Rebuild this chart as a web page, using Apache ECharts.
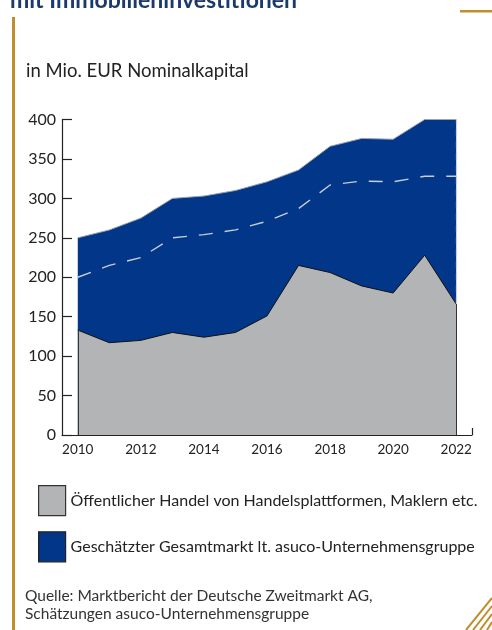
<!DOCTYPE html>
<html>
<head>
<meta charset="utf-8">
<script src="https://cdn.jsdelivr.net/npm/echarts@6/dist/echarts.min.js"></script>
<style>
  html, body { margin: 0; padding: 0; background: #fff; }
  #chart { width: 492px; height: 630px; }
</style>
</head>
<body>
<div id="chart"></div>
<script>
  const years = [2010, 2011, 2012, 2013, 2014, 2015, 2016, 2017, 2018, 2019, 2020, 2021, 2022];
  // Geschätzter Gesamtmarkt (obere Kante der blauen Fläche)
  const totalMarket = [250, 260, 275, 300, 303, 310, 321, 336, 366, 376, 375, 400, 400];
  // gestrichelte Linie innerhalb der blauen Fläche
  const dashedLine = [200, 215, 225, 250, 254, 260, 271, 287, 317, 322, 321, 328, 328];
  // Öffentlicher Handel
  const publicTrade = [133, 117, 120, 130, 124, 130, 151, 215, 206, 189, 180, 228, 166];
  const yTicks = [0, 50, 100, 150, 200, 250, 300, 350, 400];
  const xLabels = [2010, 2012, 2014, 2016, 2018, 2020, 2022];

  const nameGray = "Öffentlicher Handel von Handelsplattformen, Maklern etc.";
  const nameBlue = "Geschätzter Gesamtmarkt lt. asuco-Unternehmensgruppe";

  const BLUE = "#023688";
  const GRAY = "#b3b4b6";
  const GOLD = "#bf8f2e";
  const FONT = "Lato, 'Open Sans', sans-serif";

  const pairs = arr => years.map((y, i) => [y, arr[i]]);
  const last = years.length - 1;

  const chart = echarts.init(document.getElementById("chart"));
  chart.setOption({
    animation: false,
    textStyle: { fontFamily: FONT },
    grid: { left: 62, right: 20, top: 119.5, bottom: 195 },
    xAxis: {
      type: "value",
      min: 2009.5,
      max: 2022.5,
      splitLine: { show: false },
      axisLine: { show: true, onZero: false, lineStyle: { color: "#222", width: 1.2 } },
      axisTick: { show: true, inside: true, length: 7, customValues: [2022.5], lineStyle: { color: "#222", width: 1.2 } },
      axisLabel: {
        customValues: xLabels,
        color: "#222",
        fontSize: 13.5,
        margin: 8,
        formatter: v => String(v)
      }
    },
    yAxis: {
      type: "value",
      min: 0,
      max: 400,
      interval: 50,
      splitLine: { show: false },
      axisLine: { show: true, lineStyle: { color: "#222", width: 1.2 } },
      axisTick: { show: true, inside: true, length: 10, lineStyle: { color: "#222", width: 1.2 } },
      axisLabel: { color: "#222", fontSize: 16, margin: 6, customValues: yTicks }
    },
    legend: {
      orient: "vertical",
      left: 33,
      top: 480,
      itemGap: 15,
      itemWidth: 27,
      itemHeight: 30,
      icon: "rect",
      selectedMode: false,
      textStyle: { fontSize: 16, color: "#222", padding: [0, 0, 0, 0], fontFamily: FONT },
      data: [
        { name: nameGray, itemStyle: { color: GRAY, borderColor: "#333", borderWidth: 1.2 } },
        { name: nameBlue, itemStyle: { color: BLUE, borderColor: "#222", borderWidth: 1.2 } }
      ]
    },
    series: [
      {
        name: nameBlue,
        type: "line",
        data: pairs(totalMarket),
        symbol: "none",
        itemStyle: { color: BLUE },
        lineStyle: { color: "#9aa3b5", width: 1 },
        areaStyle: { color: BLUE, opacity: 1 },
        z: 1,
        markLine: {
          silent: true,
          symbol: "none",
          label: { show: false },
          lineStyle: { color: "#c9ccd3", type: [7, 5], width: 1.2 },
          data: [
            [{ coord: [years[last], publicTrade[last]] }, { coord: [years[last], totalMarket[last]] }]
          ]
        }
      },
      {
        name: "dashed",
        type: "line",
        data: pairs(dashedLine),
        symbol: "none",
        lineStyle: { color: "#c8cdd8", width: 1.4, type: [14, 12] },
        z: 2
      },
      {
        name: nameGray,
        type: "line",
        data: pairs(publicTrade),
        symbol: "none",
        itemStyle: { color: GRAY },
        lineStyle: { color: "#111", width: 1 },
        areaStyle: { color: GRAY, opacity: 1 },
        z: 3,
        markLine: {
          silent: true,
          symbol: "none",
          label: { show: false },
          lineStyle: { color: "#333", type: "solid", width: 1 },
          data: [
            [{ coord: [years[0], 0] }, { coord: [years[0], publicTrade[0]] }],
            [{ coord: [years[last], 0] }, { coord: [years[last], publicTrade[last]] }]
          ]
        }
      }
    ],
    graphic: [
      {
        type: "text",
        left: 10,
        top: -11,
        style: { text: "mit Immobilieninvestitionen", fill: "#1b3a6b", font: "bold 23px " + FONT }
      },
      { type: "rect", shape: { x: 12, y: 17, width: 3, height: 620 }, style: { fill: GOLD } },
      { type: "rect", shape: { x: 460, y: 10, width: 32, height: 2.5 }, style: { fill: GOLD } },
      {
        type: "text",
        left: 26,
        top: 62,
        style: { text: "in Mio. EUR Nominalkapital", fill: "#222", font: "18.5px " + FONT }
      },
      {
        type: "text",
        left: 25,
        top: 587,
        style: {
          text: "Quelle: Marktbericht der Deutsche Zweitmarkt AG,\nSchätzungen asuco-Unternehmensgruppe",
          fill: "#333",
          font: "15.5px " + FONT,
          lineHeight: 18
        }
      },
      { type: "line", shape: { x1: 466, y1: 630, x2: 492, y2: 598 }, style: { stroke: GOLD, lineWidth: 2 } },
      { type: "line", shape: { x1: 473, y1: 630, x2: 492, y2: 606 }, style: { stroke: GOLD, lineWidth: 2 } },
      { type: "line", shape: { x1: 480, y1: 630, x2: 492, y2: 614 }, style: { stroke: GOLD, lineWidth: 2 } },
      { type: "line", shape: { x1: 487, y1: 630, x2: 492, y2: 622 }, style: { stroke: GOLD, lineWidth: 2 } }
    ]
  });
</script>
</body>
</html>
